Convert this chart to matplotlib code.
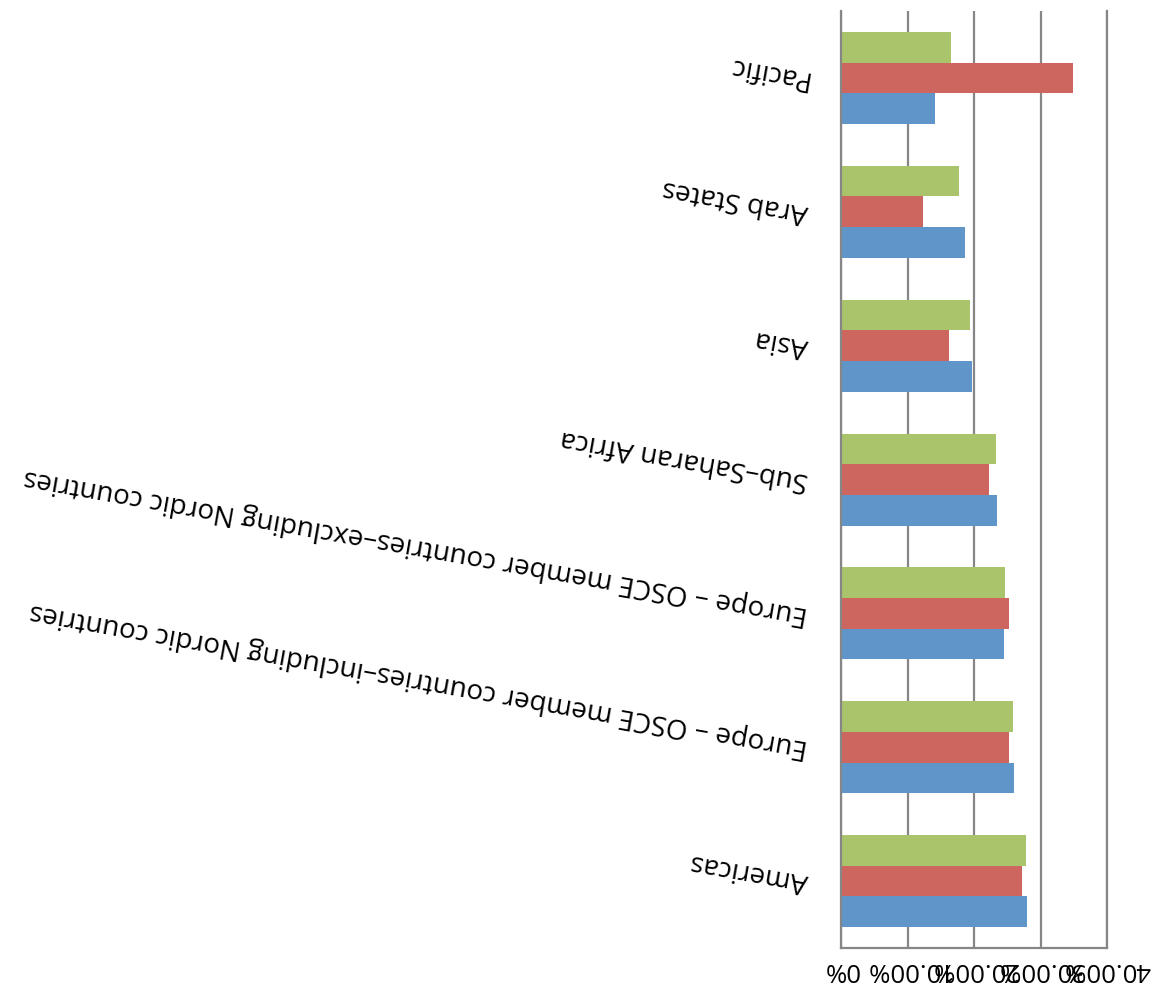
import matplotlib
matplotlib.use('Agg')
import matplotlib.pyplot as plt
import numpy as np

plt.rcParams['font.family'] = ['Open Sans', 'DejaVu Sans']

# categories, bottom to top
regions = ['Americas',
           'Europe \u2013 OSCE member countries\u2013including Nordic countries',
           'Europe \u2013 OSCE member countries\u2013excluding Nordic countries',
           'Sub\u2013Saharan Africa',
           'Asia',
           'Arab States',
           'Pacific']
# values in percent
blue_vals = [27.9, 25.95, 24.45, 23.4, 19.65, 18.6, 14.2]
red_vals = [27.15, 25.2, 25.2, 22.2, 16.2, 12.3, 34.9]
green_vals = [27.75, 25.8, 24.6, 23.25, 19.35, 17.8, 16.5]
x_ticks = [0, 10, 20, 30, 40]
x_tick_labels = ['0%', '10.00%', '20.00%', '30.00%', '40.00%']

fig = plt.figure(figsize=(11.62, 10.03), dpi=100)
ax = fig.add_axes([0.7238, 0.0538, 0.2289, 0.9342])

y = np.arange(len(regions))
h = 0.229
ax.barh(y - h, blue_vals, height=h, color='#5F95C9')
ax.barh(y, red_vals, height=h, color='#CD665F')
ax.barh(y + h, green_vals, height=h, color='#AAC46B')

ax.set_xlim(0, 40)
ax.set_ylim(-0.5, len(regions) - 0.5)

grid_col = '#868686'
ax.set_axisbelow(True)
ax.xaxis.grid(True, color=grid_col, linewidth=1.6)
for side in ['left', 'bottom', 'right']:
    ax.spines[side].set_color(grid_col)
    ax.spines[side].set_linewidth(1.6)
ax.spines['top'].set_visible(False)

ax.set_xticks(x_ticks)
ax.set_xticklabels(x_tick_labels, rotation=180, ha='center', fontsize=18.5)
ax.tick_params(axis='x', length=0, pad=6)

ax.set_yticks(y)
ax.set_yticklabels(regions, fontsize=20)
plt.setp(ax.get_yticklabels(), rotation=170, rotation_mode='anchor',
         ha='left', va='center')
ax.tick_params(axis='y', length=0, pad=24)

fig.savefig('out.png', dpi=100)
